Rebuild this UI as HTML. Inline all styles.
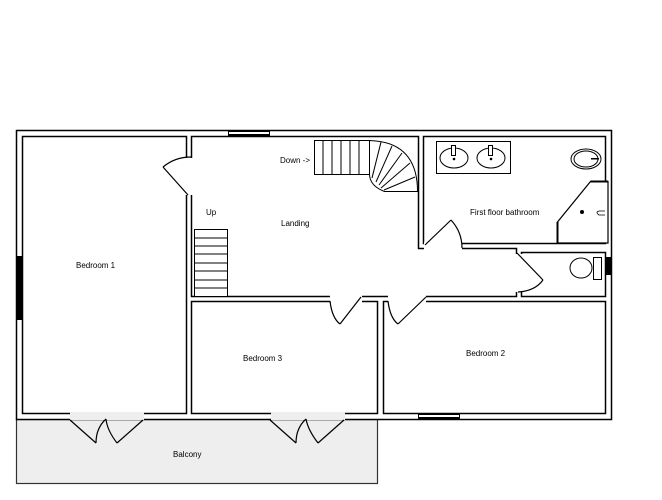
<!DOCTYPE html>
<html><head><style>
body{margin:0;background:#fff;}
svg{display:block;font-family:"Liberation Sans",sans-serif;}
text{font-size:8px;fill:#000;}
</style></head><body>
<svg width="662" height="500" viewBox="0 0 662 500">
<rect width="662" height="500" fill="#fff"/>
<!-- balcony -->
<rect x="16.5" y="419.5" width="361" height="64" fill="#eeeeee" stroke="#333" stroke-width="1.2"/>
<!-- outer walls -->
<rect x="16.5" y="130.5" width="595" height="289" fill="#fff" stroke="#000" stroke-width="1.5"/>
<g fill="#fff" stroke="#000" stroke-width="1.5">
<rect x="22.5" y="136.5" width="164" height="277"/>
<polygon points="191.5,136.5 418.5,136.5 418.5,248.5 516.5,248.5 516.5,296.5 191.5,296.5"/>
<rect x="423.5" y="136.5" width="182" height="107"/>
<rect x="521.5" y="252.5" width="84" height="44"/>
<rect x="191.5" y="301.5" width="186" height="112"/>
<rect x="383.5" y="301.5" width="222" height="112"/>
</g>
<!-- door gaps -->
<g fill="#fff">
<rect x="185" y="158" width="8" height="37"/>
<rect x="330" y="295" width="32" height="8"/>
<rect x="388" y="295" width="38" height="8"/>
<rect x="424" y="242" width="38" height="8"/>
<rect x="515" y="254" width="8" height="38"/>
</g>
<g fill="#eeeeee">
<rect x="70" y="412" width="74" height="8"/>
<rect x="271" y="412" width="74" height="8"/>
</g>
<g fill="none" stroke="#000" stroke-width="1.2">
<line x1="163" y1="167" x2="188" y2="195"/>
<path d="M163 167 Q175 157 191 157"/>
<line x1="361" y1="297" x2="340" y2="324"/>
<path d="M330 301 Q332 318 340 324"/>
<line x1="426" y1="297" x2="398" y2="324"/>
<path d="M388 301 Q390 318 398 324"/>
<line x1="425" y1="245" x2="451" y2="220"/>
<path d="M451 220 Q462 232 462 248"/>
<line x1="517" y1="253" x2="543" y2="280"/>
<path d="M543 280 Q535 291 518 292"/>
<line x1="70" y1="420" x2="96" y2="443"/><path d="M96 443 Q96 428 106 419"/>
<line x1="143" y1="420" x2="117" y2="443"/><path d="M117 443 Q107 430 106 419"/>
<line x1="270" y1="420" x2="296" y2="443"/><path d="M296 443 Q296 428 306 419"/>
<line x1="344" y1="420" x2="318" y2="443"/><path d="M318 443 Q308 430 306 419"/>
</g>
<!-- windows -->
<g fill="#000">
<rect x="228" y="130" width="42" height="6"/>
<rect x="17" y="256" width="5" height="64"/>
<rect x="605" y="257" width="6" height="18"/>
<rect x="418" y="413" width="42" height="6"/>
</g>
<g fill="#fff">
<rect x="229" y="132" width="40" height="2"/>
<rect x="419" y="415" width="40" height="2"/>
</g>
<!-- stairs -->
<g fill="#fff" stroke="#000" stroke-width="1">
<rect x="194.5" y="229.5" width="33" height="67"/>
<rect x="314.5" y="140.5" width="55" height="34"/>
<path d="M369.5 140.5 Q417.5 142 417.5 191.5 L384.5 191.5 Q370 186 369.5 174.5 Z"/>
</g>
<g stroke="#000" stroke-width="1">
<line x1="194" y1="238" x2="228" y2="238"/><line x1="194" y1="246" x2="228" y2="246"/>
<line x1="194" y1="254" x2="228" y2="254"/><line x1="194" y1="263" x2="228" y2="263"/>
<line x1="194" y1="271" x2="228" y2="271"/><line x1="194" y1="280" x2="228" y2="280"/>
<line x1="194" y1="288" x2="228" y2="288"/>
<line x1="323" y1="140" x2="323" y2="174"/><line x1="332" y1="140" x2="332" y2="174"/>
<line x1="341" y1="140" x2="341" y2="174"/><line x1="350" y1="140" x2="350" y2="174"/>
<line x1="359" y1="140" x2="359" y2="174"/>
<line x1="381" y1="142" x2="372" y2="178"/><line x1="392" y1="146" x2="376" y2="182"/>
<line x1="402" y1="153" x2="379" y2="185"/><line x1="410" y1="163" x2="381" y2="188"/>
<line x1="415" y1="177" x2="384" y2="190"/>
</g>
<!-- bathroom fixtures -->
<g fill="#fff" stroke="#000" stroke-width="1">
<rect x="436.5" y="141.5" width="74" height="32"/>
<ellipse cx="454" cy="158" rx="14" ry="10"/>
<ellipse cx="491" cy="158" rx="14" ry="10"/>
<rect x="451.5" y="145.5" width="4" height="10"/><rect x="488.5" y="145.5" width="4" height="10"/>
<ellipse cx="586" cy="159" rx="15" ry="10"/>
<ellipse cx="586" cy="159" rx="12" ry="8"/>
<ellipse cx="581" cy="268" rx="11" ry="10"/>
<rect x="593.5" y="257.5" width="8" height="22"/>
</g>
<g fill="#000">
<circle cx="454" cy="159" r="1.3"/><circle cx="491" cy="159" r="1.3"/>
<rect x="591" y="158" width="8" height="1.5"/>
</g>
<polygon points="590.5,181.5 608,181.5 608,243 557.5,243 557.5,222 " fill="#fff" stroke="#000" stroke-width="1.2"/>
<line x1="557.5" y1="243" x2="557.5" y2="222" stroke="#000" stroke-width="2"/>
<line x1="590.5" y1="181.5" x2="608" y2="181.5" stroke="#000" stroke-width="2"/>
<circle cx="582" cy="212" r="2" fill="#000"/>
<path d="M605 211 L599 211 Q595 212 599 215 L605 215" fill="none" stroke="#000" stroke-width="0.8"/>
<!-- labels -->
<text x="280" y="163">Down -&gt;</text>
<text x="206" y="215">Up</text>
<text x="281" y="226">Landing</text>
<text x="76" y="268">Bedroom 1</text>
<text x="470" y="215">First floor bathroom</text>
<text x="243" y="361">Bedroom 3</text>
<text x="466" y="356">Bedroom 2</text>
<text x="173" y="457">Balcony</text>
</svg>
</body></html>
